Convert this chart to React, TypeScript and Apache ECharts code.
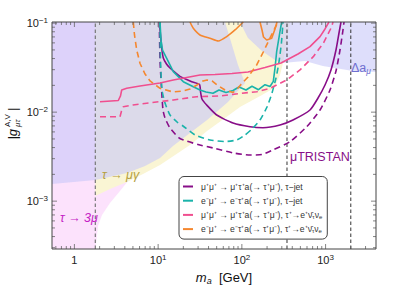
import React, { useEffect, useRef } from 'react';
import * as echarts from 'echarts';

const FONT = '"Liberation Sans", Arial, Helvetica, sans-serif';

// axis ranges and ticks
const xRange = [0.54, 4000];
const yRange = [2.9e-4, 0.103];
const xMajorTicks = [1, 10, 100, 1000];
const xMinorTicks = [0.6, 0.7, 0.8, 0.9, 2, 3, 4, 5, 6, 7, 8, 9, 20, 30, 40, 50, 60, 70, 80, 90, 200, 300, 400, 500, 600, 700, 800, 900, 2000, 3000];
const yMajorTicks = [0.001, 0.01, 0.1];
const yMinorTicks = [3e-4, 4e-4, 5e-4, 6e-4, 7e-4, 8e-4, 9e-4, 0.002, 0.003, 0.004, 0.005, 0.006, 0.007, 0.008, 0.009, 0.02, 0.03, 0.04, 0.05, 0.06, 0.07, 0.08, 0.09];

// reference masses (GeV)
const tauMass = 1.777;
const muTristanMass = 346;
const collider2TeV = 2000;

// legend
const seriesNames = [
  'μ⁺μ⁺ → μ⁺τ⁺a(→ τ⁺μ⁻), τ−jet',
  'e⁻μ⁺ → e⁻τ⁺a(→ τ⁺μ⁻), τ−jet',
  'μ⁺μ⁺ → μ⁺τ⁺a(→ τ⁺μ⁻), τ⁺→e⁺ν̄τνe',
  'e⁻μ⁺ → e⁻τ⁺a(→ τ⁺μ⁻), τ⁺→e⁺ν̄τνe',
];
const legendLabels = [
  'μ⁺μ⁺ → μ⁺τ⁺a(→ τ⁺μ⁻), τ−jet',
  'e⁻μ⁺ → e⁻τ⁺a(→ τ⁺μ⁻), τ−jet',
  'μ⁺μ⁺ → μ⁺τ⁺a(→ τ⁺μ⁻), τ⁺→e⁺ν̄{s|τ}ν{s|e}',
  'e⁻μ⁺ → e⁻τ⁺a(→ τ⁺μ⁻), τ⁺→e⁺ν̄{s|τ}ν{s|e}',
];
const seriesColors = ['#880e88', '#1ab3aa', '#f04f8f', '#f5872f'];

// sensitivity curves [m_a (GeV), |g|]
const purpleSolid = [[10.33, 0.103], [10.67, 0.0736], [11.03, 0.0526], [11.53, 0.0406], [12.59, 0.0348], [13.86, 0.0313], [15.91, 0.0279], [18.24, 0.0252], [25.18, 0.022], [31.2, 0.0205], [32.1, 0.01685], [33.4, 0.01405], [38.0, 0.01203], [50.1, 0.00929], [78.4, 0.00755], [125.1, 0.00686], [178.9, 0.00669], [285.5, 0.00717], [408, 0.00816], [651, 0.01057], [812, 0.01442], [984, 0.0202], [1160, 0.0298], [1331, 0.0499], [1446, 0.0775], [1528, 0.103]];
const purpleDashed = [[10.33, 0.103], [10.53, 0.0386], [11.03, 0.01698], [11.43, 0.01057], [12.08, 0.0086], [13.86, 0.00664], [18.24, 0.00506], [29.9, 0.00433], [45.2, 0.00396], [78.4, 0.00348], [125.1, 0.0033], [174, 0.00334], [235.4, 0.00376], [375.7, 0.00466], [595, 0.00686], [858, 0.01057], [1129, 0.01774], [1331, 0.029], [1486, 0.0499], [1614, 0.0838], [1660, 0.103]];
const tealSolid = [[10.53, 0.103], [10.82, 0.0647], [11.28, 0.0499], [12.66, 0.0403], [15.18, 0.0285], [19.98, 0.022], [26.3, 0.0193], [31.6, 0.01774], [37.3, 0.01685], [45.2, 0.01629], [53.3, 0.01774], [64.7, 0.01663], [78.4, 0.0175], [92.4, 0.01918], [112.1, 0.01774], [132.1, 0.01953], [158, 0.01788], [189, 0.02035], [216.8, 0.01943], [237.4, 0.0222], [248.8, 0.0313], [260.7, 0.0483], [285.5, 0.081], [299, 0.103]];
const tealDashed = [[10.53, 0.103], [10.67, 0.0386], [11.12, 0.01774], [12.08, 0.01268], [13.86, 0.00929], [16.81, 0.00775], [19.82, 0.00699], [27.6, 0.00554], [41.6, 0.00487], [62.9, 0.00468], [87.5, 0.00487], [109, 0.00554], [132.1, 0.00647], [164.7, 0.00816], [199.7, 0.01143], [229, 0.01641], [255.6, 0.0242], [277.7, 0.0366], [297.5, 0.0614], [310, 0.103]];
const pinkSolid = [[2.022, 0.0131], [3.345, 0.01352], [3.553, 0.0152], [3.672, 0.01774], [4.214, 0.01854], [6.074, 0.01968], [10.53, 0.02127], [15.18, 0.02298], [31.6, 0.02616], [47.8, 0.02649], [76.2, 0.02718], [118.4, 0.02826], [189, 0.03175], [293.4, 0.03566], [468.3, 0.045], [651, 0.0544], [858, 0.0705], [984, 0.086], [1098, 0.103]];
const pinkDashed = [[2.022, 0.00889], [3.504, 0.00889], [3.651, 0.0103], [3.837, 0.01151], [5.01, 0.01203], [7.3, 0.01258], [15.18, 0.0137], [28.9, 0.01492], [54.8, 0.0152], [95.0, 0.0162], [150.4, 0.01698], [216.8, 0.01854], [343.2, 0.02298], [494.8, 0.0298], [713.4, 0.042], [938.9, 0.0594], [1183, 0.0912], [1226, 0.103]];
const orangeSolidLow = [[24.0, 0.103], [26.3, 0.0876], [31.6, 0.0736], [41.6, 0.0676], [52.3, 0.063], [65.9, 0.0705], [82.8, 0.0838], [104, 0.103]];
const orangeSolidHigh = [[164.7, 0.103], [174, 0.0838], [181.3, 0.0699], [198, 0.0647], [227.2, 0.0676], [248.8, 0.086], [262.9, 0.103]];
const orangeDashed = [[5.05, 0.103], [5.22, 0.0736], [5.55, 0.0499], [6.07, 0.0354], [6.97, 0.02684], [8.0, 0.0224], [10.53, 0.01854], [15.05, 0.01685], [19.82, 0.01729], [24.0, 0.0182], [29.1, 0.0202], [34.4, 0.0224], [38.4, 0.02298], [44.0, 0.0224], [50.5, 0.0202], [62.9, 0.01774], [78.4, 0.01663], [89.9, 0.01868], [97.7, 0.0205], [118.4, 0.02483], [150.4, 0.0339], [180.3, 0.0474], [207, 0.0622], [237.4, 0.081], [270, 0.103]];

// constraint regions (polygons in data space)
const tau3muRegion = [[0.54, 0.103], [1.777, 0.103], [5.29, 0.0029], [4.37, 0.001684], [3.5, 0.0013], [2.66, 0.000953], [2.136, 0.000699], [1.913, 0.000526], [1.836, 0.000366], [1.777, 2.9e-4], [0.54, 2.9e-4]];
const tauMuGammaRegion = [[1.777, 0.103], [1.777, 0.001143], [2.66, 0.00137], [4.25, 0.00164], [6.6, 0.00202], [10.53, 0.00255], [15.91, 0.0033], [24.0, 0.00428], [38.4, 0.00614], [62.9, 0.0086], [95.0, 0.01143], [174, 0.0156], [242.1, 0.01868], [285.5, 0.02616], [310, 0.03566], [375.7, 0.103]];
const deltaAmuRegionLow = [[0.54, 0.103], [0.54, 0.00156], [1.777, 0.00173], [4.25, 0.00207], [6.97, 0.00248], [10.53, 0.00305], [15.05, 0.00417], [24.0, 0.00583], [38.4, 0.00816], [68.3, 0.013], [109, 0.02127], [89.9, 0.0339], [76.2, 0.0568], [62.9, 0.103]];
const deltaAmuRegionHigh = [[95.0, 0.103], [118.4, 0.0681], [174, 0.0487], [248.8, 0.0386], [301.6, 0.03566], [567.6, 0.0376], [926.6, 0.033], [1956, 0.0294], [4000, 0.02826], [4000, 0.103]];

const regionSeries = (poly: number[][], fill: string, z: number) => ({
  type: 'custom',
  coordinateSystem: 'cartesian2d',
  silent: true,
  z,
  data: [poly[0]],
  renderItem: (_p: any, api: any) => ({
    type: 'polygon',
    shape: { points: poly.map((pt) => api.coord(pt)) },
    style: { fill },
  }),
});

const lineSeries = (idx: number, data: number[][], dashed: boolean, smooth: number | boolean) => ({
  type: 'line',
  name: seriesNames[idx],
  data,
  z: 5,
  symbol: 'none',
  smooth,
  color: seriesColors[idx],
  lineStyle: { width: 1.6, color: seriesColors[idx], type: dashed ? [6, 4] : 'solid' },
});

const vLine = (x: number, color: string, width: number, dash: number[]) => ({
  type: 'line',
  data: [[x, yRange[0]], [x, yRange[1]]],
  z: 4,
  symbol: 'none',
  silent: true,
  lineStyle: { width, color, type: dash },
});

const xTickSeries = (ticks: number[], len: number) => ({
  type: 'custom',
  coordinateSystem: 'cartesian2d',
  silent: true,
  z: 10,
  data: ticks.map((v) => [v, yRange[0]]),
  renderItem: (_p: any, api: any) => {
    const v = api.value(0);
    const b = api.coord([v, yRange[0]]);
    const t = api.coord([v, yRange[1]]);
    return {
      type: 'group',
      children: [
        { type: 'line', shape: { x1: b[0], y1: b[1], x2: b[0], y2: b[1] - len }, style: { stroke: '#666', lineWidth: 0.8 } },
        { type: 'line', shape: { x1: t[0], y1: t[1], x2: t[0], y2: t[1] + len }, style: { stroke: '#666', lineWidth: 0.8 } },
      ],
    };
  },
});

const yTickSeries = (ticks: number[], len: number) => ({
  type: 'custom',
  coordinateSystem: 'cartesian2d',
  silent: true,
  z: 10,
  data: ticks.map((v) => [xRange[0], v]),
  renderItem: (_p: any, api: any) => {
    const v = api.value(1);
    const l = api.coord([xRange[0], v]);
    const r = api.coord([xRange[1], v]);
    return {
      type: 'group',
      children: [
        { type: 'line', shape: { x1: l[0], y1: l[1], x2: l[0] + len, y2: l[1] }, style: { stroke: '#666', lineWidth: 0.8 } },
        { type: 'line', shape: { x1: r[0], y1: r[1], x2: r[0] - len, y2: r[1] }, style: { stroke: '#666', lineWidth: 0.8 } },
      ],
    };
  },
});

const powLabel = (v: number) => {
  const k = Math.round(Math.log10(v));
  if (k === 0) return '{b|1}';
  return `{b|10}{s|${k < 0 ? '−' : ''}${Math.abs(k)}}`;
};

const labelRich = {
  b: { fontSize: 11, fontFamily: FONT, color: '#222', lineHeight: 14 },
  s: { fontSize: 8, fontFamily: FONT, color: '#222', lineHeight: 8, verticalAlign: 'top' },
};

const lavender = 'rgba(200,200,248,0.6)';

export default function App() {
  const ref = useRef<HTMLDivElement>(null);
  useEffect(() => {
    if (!ref.current) return;
    const chart = echarts.init(ref.current, undefined, { renderer: 'svg' });
    chart.setOption({
      animation: false,
      backgroundColor: '#fff',
      textStyle: { fontFamily: FONT },
      grid: { left: 52, right: 23, top: 22, bottom: 38, show: true, borderColor: '#444', borderWidth: 1, backgroundColor: 'transparent', z: 20 },
      xAxis: {
        type: 'log', logBase: 10, min: xRange[0], max: xRange[1],
        axisLine: { show: false }, axisTick: { show: false }, splitLine: { show: false },
        axisLabel: { formatter: powLabel, rich: labelRich, margin: 4, showMinLabel: false, showMaxLabel: false },
      },
      yAxis: {
        type: 'log', logBase: 10, min: yRange[0], max: yRange[1],
        axisLine: { show: false }, axisTick: { show: false }, splitLine: { show: false },
        axisLabel: { formatter: powLabel, rich: labelRich, margin: 4, showMinLabel: false, showMaxLabel: false },
      },
      legend: {
        data: seriesNames,
        orient: 'vertical',
        left: 179, top: 176.5,
        padding: [5, 5, 5, 4],
        itemGap: 4.2,
        itemWidth: 10, itemHeight: 2,
        icon: 'rect',
        backgroundColor: '#fff',
        borderColor: '#444', borderWidth: 1, borderRadius: 5,
        z: 30,
        formatter: (name: string) => legendLabels[seriesNames.indexOf(name)],
        textStyle: {
          fontSize: 8.6, color: '#333', lineHeight: 10, fontFamily: FONT, padding: [0, 0, 0, 3],
          rich: { s: { fontSize: 6, color: '#333', fontFamily: FONT, verticalAlign: 'bottom', lineHeight: 7 } },
        },
      },
      graphic: [
        { type: 'text', x: 351, y: 68, z: 25, style: { text: '{d|Δa}{s|μ}', textVerticalAlign: 'middle', rich: { d: { fontSize: 12.5, fill: '#6f6fd0', fontFamily: FONT, lineHeight: 15 }, s: { fontSize: 8.5, fill: '#6f6fd0', fontFamily: FONT, fontStyle: 'italic', verticalAlign: 'bottom', lineHeight: 9 } } } },
        { type: 'text', x: 290, y: 157, z: 25, style: { text: 'μTRISTAN', fontSize: 12.5, fontFamily: FONT, fill: '#880e88', textVerticalAlign: 'middle' } },
        { type: 'text', x: 102, y: 175, z: 25, style: { text: 'τ → μγ', fontSize: 12.5, fontFamily: FONT, fontStyle: 'italic', fill: '#b5a040', textVerticalAlign: 'middle' } },
        { type: 'text', x: 60, y: 218, z: 25, style: { text: 'τ → 3μ', fontSize: 12.5, fontFamily: FONT, fontStyle: 'italic', fill: '#c51fc5', textVerticalAlign: 'middle' } },
        { type: 'text', x: 224, y: 277, z: 25, style: { text: '{i|m}{s|a}{n|  [GeV]}', textAlign: 'center', textVerticalAlign: 'middle', rich: { i: { fontSize: 13, fontStyle: 'italic', fontFamily: FONT, fill: '#111', lineHeight: 16 }, s: { fontSize: 9, fontStyle: 'italic', fontFamily: FONT, fill: '#111', verticalAlign: 'bottom', lineHeight: 10 }, n: { fontSize: 13, fontFamily: FONT, fill: '#111', lineHeight: 16 } } } },
        {
          type: 'group', x: 12, y: 127, rotation: Math.PI / 2, z: 25,
          children: [
            { type: 'text', x: -2, y: 0, style: { text: '|g', fontSize: 13, fontFamily: FONT, fontStyle: 'italic', fill: '#111', textAlign: 'right', textVerticalAlign: 'middle' } },
            { type: 'text', x: 0, y: -5, style: { text: 'A,V', fontSize: 8, fontFamily: FONT, fill: '#111', textAlign: 'left', textVerticalAlign: 'middle' } },
            { type: 'text', x: 0, y: 5, style: { text: 'μτ', fontSize: 8, fontFamily: FONT, fontStyle: 'italic', fill: '#111', textAlign: 'left', textVerticalAlign: 'middle' } },
            { type: 'text', x: 16, y: 0, style: { text: '|', fontSize: 13, fontFamily: FONT, fill: '#111', textAlign: 'left', textVerticalAlign: 'middle' } },
          ],
        },
      ],
      series: [
        regionSeries(tau3muRegion, 'rgb(252,226,252)', 1),
        regionSeries(tauMuGammaRegion, 'rgb(250,245,212)', 2),
        regionSeries(deltaAmuRegionLow, lavender, 3),
        regionSeries(deltaAmuRegionHigh, lavender, 3),
        vLine(tauMass, '#777', 1.2, [3.5, 2.5]),
        vLine(muTristanMass, '#333', 1, [3.5, 2.5]),
        vLine(collider2TeV, '#333', 1, [3.5, 2.5]),
        lineSeries(0, purpleSolid, false, 0.2),
        lineSeries(0, purpleDashed, true, 0.2),
        lineSeries(1, tealSolid, false, false),
        lineSeries(1, tealDashed, true, 0.2),
        lineSeries(2, pinkSolid, false, false),
        lineSeries(2, pinkDashed, true, false),
        lineSeries(3, orangeSolidLow, false, 0.2),
        lineSeries(3, orangeSolidHigh, false, false),
        lineSeries(3, orangeDashed, true, false),
        xTickSeries(xMajorTicks, 5),
        xTickSeries(xMinorTicks, 3),
        yTickSeries(yMajorTicks, 5),
        yTickSeries(yMinorTicks, 3),
      ],
    });
    return () => chart.dispose();
  }, []);
  return <div ref={ref} style={{ position: 'fixed', left: 0, top: 0, width: 399, height: 287 }} />;
}
